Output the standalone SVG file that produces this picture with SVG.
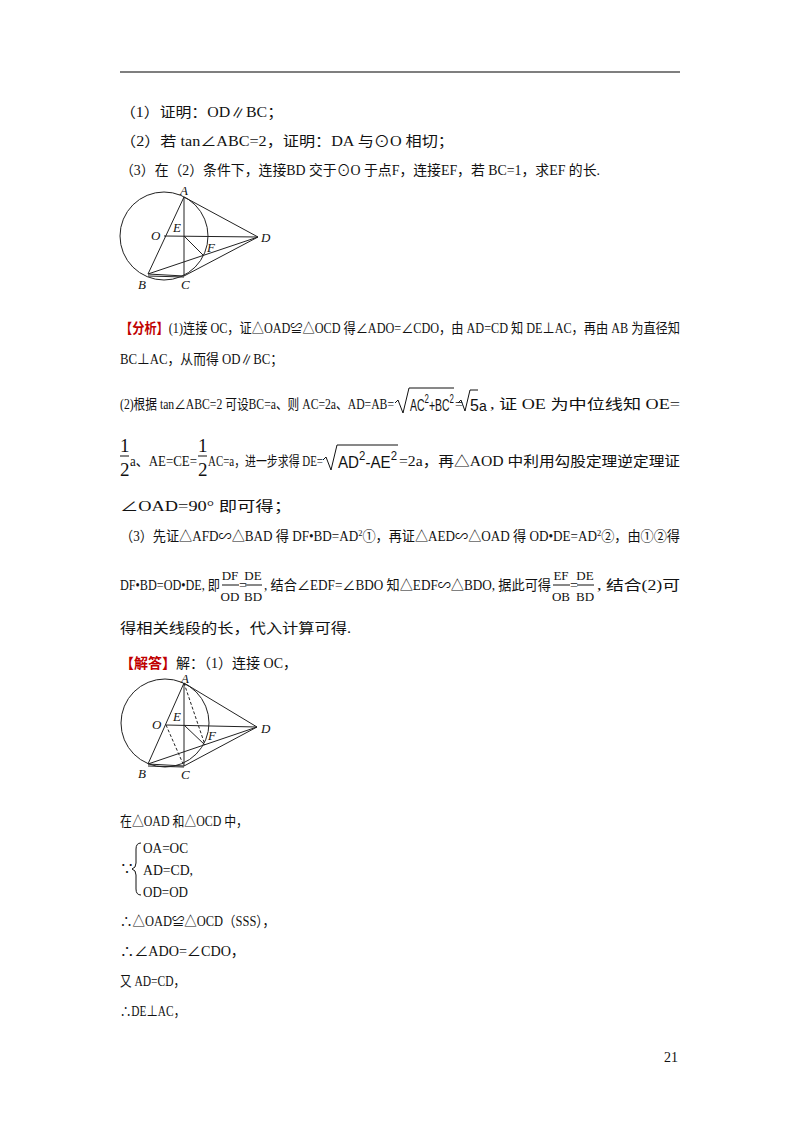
<svg xmlns="http://www.w3.org/2000/svg" width="800" height="1132" viewBox="0 0 800 1132">
<style>
text{font-family:"Liberation Serif","Noto Sans CJK SC",serif;font-size:14px;fill:#111}
.b{fill:#c00000;font-weight:bold}
.l{font-style:italic;font-size:13px}
.g line,.g circle{stroke:#222;stroke-width:1;fill:none}
.d{stroke-dasharray:3,2}
.big{font-size:19px}
.r{font-size:16px;font-family:"Liberation Sans",sans-serif}
.f{font-size:13px;text-anchor:middle}
</style>
<rect width="800" height="1132" fill="#fff"/>
<line x1="120" y1="72" x2="680" y2="72" stroke="#000" stroke-width="1.2"/>
<text x="120" y="117" textLength="163" lengthAdjust="spacingAndGlyphs">（1）证明：OD∥BC；</text>
<text x="120" y="146" textLength="334" lengthAdjust="spacingAndGlyphs">（2）若 tan∠ABC=2，证明：DA 与⊙O 相切；</text>
<text x="120" y="175" textLength="480" lengthAdjust="spacingAndGlyphs">（3）在（2）条件下，连接BD 交于⊙O 于点F，连接EF，若 BC=1，求EF 的长.</text>
<g id="fig1" class="g">
<circle cx="164" cy="236" r="44"/>
<line x1="184" y1="197" x2="148" y2="274"/>
<line x1="184" y1="197" x2="184" y2="276"/>
<line x1="184" y1="197" x2="258" y2="237"/>
<line x1="164" y1="236" x2="258" y2="237"/>
<line x1="184" y1="236" x2="203" y2="255"/>
<line x1="148" y1="274" x2="258" y2="237"/>
<line x1="184" y1="276" x2="258" y2="237"/>
<line x1="148" y1="274" x2="184" y2="276"/>
<line x1="148" y1="276" x2="184" y2="277"/>
</g>
<g id="fig1-labels">
<text class="l" x="180" y="195">A</text>
<text class="l" x="151" y="240">O</text>
<text class="l" x="173" y="232">E</text>
<text class="l" x="207" y="252">F</text>
<text class="l" x="261" y="242">D</text>
<text class="l" x="138" y="289">B</text>
<text class="l" x="181" y="289">C</text>
</g>
<text x="120" y="333" textLength="560" lengthAdjust="spacingAndGlyphs"><tspan class="b">【分析】</tspan>(1)连接 OC，证△OAD≌△OCD 得∠ADO=∠CDO，由 AD=CD 知 DE⊥AC，再由 AB 为直径知</text>
<text x="120" y="364" textLength="163" lengthAdjust="spacingAndGlyphs">BC⊥AC，从而得 OD∥BC；</text>
<text x="120" y="409" textLength="274" lengthAdjust="spacingAndGlyphs">(2)根据 tan∠ABC=2 可设BC=a、则 AC=2a、AD=AB=</text>
<g stroke="#111" fill="none"><path d="M395 403 l3 -3 l5 13 l6 -25 h45"/><path d="M458 403 l3 -3 l4 11 l5 -21 h8"/><path d="M323 460 l3 -3 l5 13 l6 -25 h61"/></g>
<text class="r" x="410" y="411" textLength="44" lengthAdjust="spacingAndGlyphs">AC<tspan dy="-8" font-size="12">2</tspan><tspan dy="8">+BC</tspan><tspan dy="-8" font-size="12">2</tspan></text>
<text x="455" y="409">=</text>
<text class="r" x="470" y="411">5<tspan font-size="14">a</tspan></text>
<text x="490" y="409" textLength="190" lengthAdjust="spacingAndGlyphs">, 证 OE 为中位线知 OE=</text>
<g stroke="#111"><line x1="120" y1="456" x2="129" y2="456"/><line x1="198" y1="456" x2="207" y2="456"/></g>
<text class="big" x="120" y="452">1</text><text class="big" x="120" y="476">2</text>
<text x="130" y="466" textLength="67" lengthAdjust="spacingAndGlyphs">a、AE=CE=</text>
<text class="big" x="198" y="452">1</text><text class="big" x="198" y="476">2</text>
<text x="208" y="466" textLength="115" lengthAdjust="spacingAndGlyphs">AC=a，进一步求得 DE=</text>
<text class="r" x="338" y="468" textLength="59" lengthAdjust="spacingAndGlyphs">AD<tspan dy="-8" font-size="12">2</tspan><tspan dy="8">-AE</tspan><tspan dy="-8" font-size="12">2</tspan></text>
<text x="399" y="466" textLength="281" lengthAdjust="spacingAndGlyphs">=2a，再△AOD 中利用勾股定理逆定理证</text>
<text x="120" y="511" textLength="172" lengthAdjust="spacingAndGlyphs">∠OAD=90° 即可得；</text>
<text x="120" y="541" textLength="560" lengthAdjust="spacingAndGlyphs">（3）先证△AFD∽△BAD 得 DF•BD=AD<tspan font-size="9" dy="-5">2</tspan><tspan dy="5">①，再证△AED∽△OAD 得 OD•DE=AD</tspan><tspan font-size="9" dy="-5">2</tspan><tspan dy="5">②，由①②得</tspan></text>
<g stroke="#111"><line x1="222" y1="585" x2="239" y2="585"/><line x1="245" y1="585" x2="262" y2="585"/><line x1="553" y1="585" x2="570" y2="585"/><line x1="577" y1="585" x2="594" y2="585"/></g>
<text x="120" y="590" textLength="100" lengthAdjust="spacingAndGlyphs">DF•BD=OD•DE, 即</text>
<text class="f" x="230" y="580">DF</text><text class="f" x="230" y="601">OD</text><text x="239" y="590" font-size="11">=</text>
<text class="f" x="253" y="580">DE</text><text class="f" x="253" y="601">BD</text>
<text x="264" y="590" textLength="287" lengthAdjust="spacingAndGlyphs">, 结合∠EDF=∠BDO 知△EDF∽△BDO, 据此可得</text>
<text class="f" x="561" y="580">EF</text><text class="f" x="561" y="601">OB</text><text x="570" y="590" font-size="11">=</text>
<text class="f" x="585" y="580">DE</text><text class="f" x="585" y="601">BD</text>
<text x="597" y="590" textLength="83" lengthAdjust="spacingAndGlyphs">, 结合(2)可</text>
<text x="120" y="633" textLength="231" lengthAdjust="spacingAndGlyphs">得相关线段的长，代入计算可得.</text>
<text x="120" y="668" textLength="177" lengthAdjust="spacingAndGlyphs"><tspan class="b">【解答】</tspan>解：（1）连接 OC，</text>
<g id="fig2" class="g">
<circle cx="165" cy="723" r="44"/>
<line x1="184" y1="683" x2="148" y2="764"/>
<line x1="184" y1="683" x2="184" y2="766"/>
<line x1="184" y1="683" x2="257" y2="727"/>
<line x1="166" y1="725" x2="257" y2="727"/>
<line x1="184" y1="725" x2="205" y2="745"/>
<line x1="148" y1="764" x2="257" y2="727"/>
<line x1="184" y1="766" x2="257" y2="727"/>
<line x1="148" y1="764" x2="184" y2="766"/>
<line x1="148" y1="766" x2="184" y2="767"/>
<line class="d" x1="166" y1="725" x2="184" y2="766"/>
<line class="d" x1="184" y1="683" x2="205" y2="745"/>
</g>
<g id="fig2-labels">
<text class="l" x="181" y="683">A</text>
<text class="l" x="152" y="729">O</text>
<text class="l" x="173" y="721">E</text>
<text class="l" x="208" y="740">F</text>
<text class="l" x="261" y="733">D</text>
<text class="l" x="138" y="778">B</text>
<text class="l" x="181" y="779">C</text>
</g>
<text x="120" y="826" textLength="128" lengthAdjust="spacingAndGlyphs">在△OAD 和△OCD 中，</text>
<text x="120" y="873">∵</text>
<path d="M141 843 q-5 0 -5 6 v14 q0 5 -4 6 q4 1 4 6 v14 q0 6 5 6" stroke="#111" fill="none"/>
<text x="143" y="853" textLength="45" lengthAdjust="spacingAndGlyphs">OA=OC</text>
<text x="143" y="875" textLength="50" lengthAdjust="spacingAndGlyphs">AD=CD,</text>
<text x="143" y="897" textLength="45" lengthAdjust="spacingAndGlyphs">OD=OD</text>
<text x="120" y="926" textLength="155" lengthAdjust="spacingAndGlyphs">∴△OAD≌△OCD（SSS），</text>
<text x="120" y="956" textLength="125" lengthAdjust="spacingAndGlyphs">∴∠ADO=∠CDO，</text>
<text x="120" y="986" textLength="65" lengthAdjust="spacingAndGlyphs">又 AD=CD，</text>
<text x="120" y="1016" textLength="65" lengthAdjust="spacingAndGlyphs">∴DE⊥AC，</text>
<text x="664" y="1062" font-family="Liberation Sans,sans-serif" font-size="12">21</text>
</svg>
